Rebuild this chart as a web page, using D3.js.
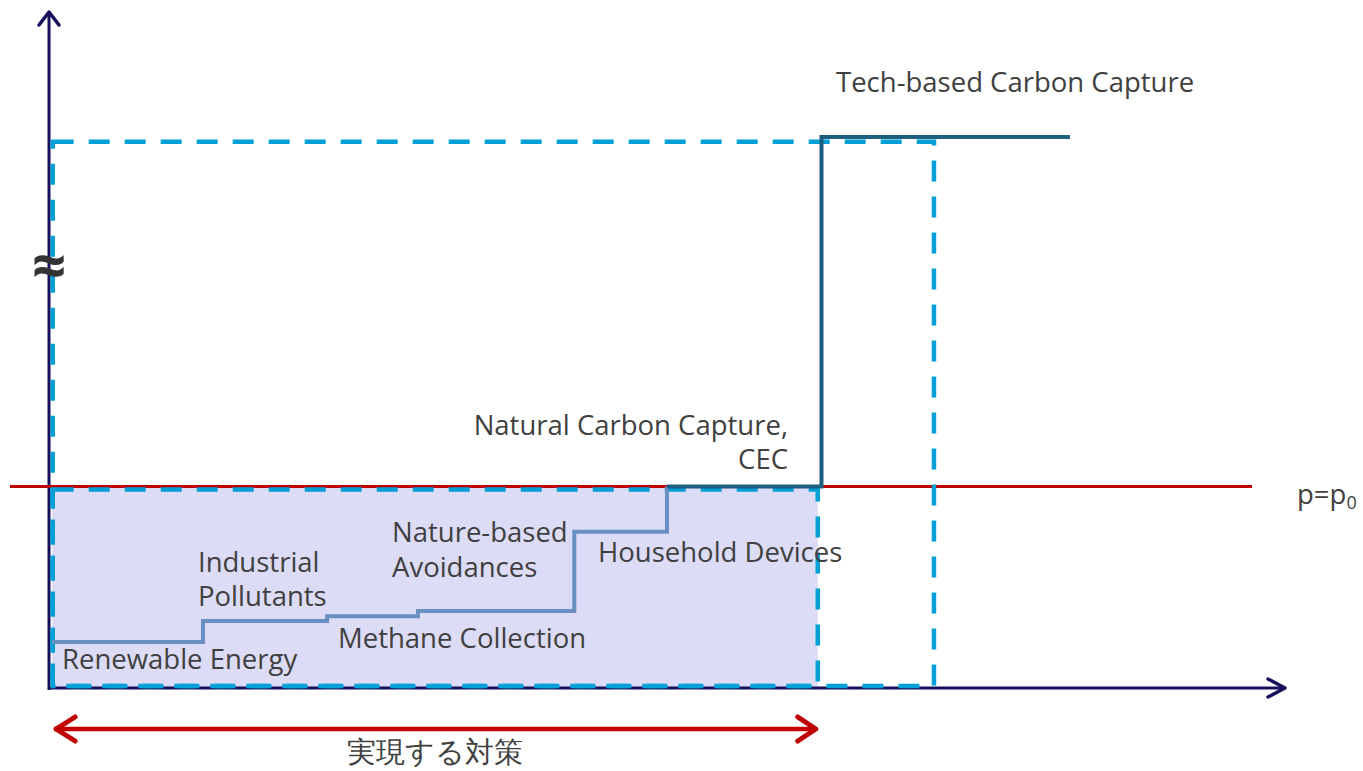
<!DOCTYPE html>
<html><head><meta charset="utf-8">
<script src="https://cdn.jsdelivr.net/npm/d3@7"></script>
<style>body{margin:0;background:#fff}svg{display:block}text{font-family:"Open Sans","Noto Sans",sans-serif;fill:#404040}</style>
</head><body><svg id="c" width="1363" height="771"></svg>
<script>
// ---- data ----
const categories = ["Renewable Energy","Industrial Pollutants","Methane Collection","Nature-based Avoidances","Household Devices","Natural Carbon Capture, CEC","Tech-based Carbon Capture"];
const stepStart = [0.25, 12.46, 22.5, 29.85, 42.5, 50, 62.5];
const stepEnd   = [12.46, 22.5, 29.85, 42.5, 50, 62.5, 82.6];
const stepCost  = [6.8, 9.9, 10.6, 11.4, 23.1, 29.8, 81.5];
const priceP0 = 29.8;
const realizedQty = 62.2;   // 実現する対策
const totalQty = 71.6;
const highCost = 80.8;

const svg = d3.select("#c");
const x = d3.scaleLinear().domain([0,100]).range([49,1285]);
const y = d3.scaleLinear().domain([0,100]).range([688,12]);

// shaded realized area
svg.append("rect").attr("x",x(0.25)).attr("y",y(priceP0)).attr("width",x(realizedQty)-x(0.25)).attr("height",y(0)-y(priceP0)).attr("fill","#dcdcf7");

// axes
const axisCol = "#160f5c";
svg.append("line").attr("x1",x(0)).attr("x2",x(0)).attr("y1",y(0)+2).attr("y2",y(100)).attr("stroke",axisCol).attr("stroke-width",3);
svg.append("line").attr("x1",x(0)).attr("x2",x(100)).attr("y1",y(0)).attr("y2",y(0)).attr("stroke",axisCol).attr("stroke-width",3);
svg.append("path").attr("d",`M${x(0)-10},${y(100)+13}L${x(0)},${y(100)}L${x(0)+10},${y(100)+13}`).attr("fill","none").attr("stroke",axisCol).attr("stroke-width",3.5).attr("stroke-linecap","round").attr("stroke-linejoin","round");
svg.append("path").attr("d",`M${x(100)-17},${y(0)-9}L${x(100)},${y(0)}L${x(100)-17},${y(0)+9}`).attr("fill","none").attr("stroke",axisCol).attr("stroke-width",3.5).attr("stroke-linecap","round").attr("stroke-linejoin","round");

// p0 line
svg.append("line").attr("x1",10).attr("x2",1252).attr("y1",y(priceP0)).attr("y2",y(priceP0)).attr("stroke","#c00000").attr("stroke-width",3);

// dashed rects
const dashCol = "#009fd6";
svg.append("rect").attr("x",x(0.3)).attr("y",y(highCost)).attr("width",x(totalQty)-x(0.3)).attr("height",y(0.3)-y(highCost))
  .attr("fill","none").attr("stroke",dashCol).attr("stroke-width",4.5).attr("stroke-dasharray","21,15");
svg.append("rect").attr("x",x(0.3)).attr("y",y(priceP0)+3).attr("width",x(realizedQty)-x(0.3)).attr("height",y(0.3)-y(priceP0)-3)
  .attr("fill","none").attr("stroke",dashCol).attr("stroke-width",4.5).attr("stroke-dasharray","21,15");

// step curve
function stepPts(idx){
  const pts=[];
  idx.forEach(i=>{ pts.push([x(stepStart[i]),y(stepCost[i])]); pts.push([x(stepEnd[i]),y(stepCost[i])]); });
  return pts;
}
const lowPts = stepPts([0,1,2,3,4]);
lowPts.push([x(stepStart[5]),y(stepCost[5])]);
svg.append("path").attr("d",d3.line()(lowPts)).attr("fill","none").attr("stroke","#6a8fc2").attr("stroke-width",4);
svg.append("path").attr("d",d3.line()(stepPts([5,6]))).attr("fill","none").attr("stroke","#1d5d80").attr("stroke-width",4);

// labels
const fs = 27.5;
function lab(t,px,py,anchor){ return svg.append("text").attr("x",px).attr("y",py).attr("font-size",fs).attr("text-anchor",anchor||"start").text(t); }
lab("Tech-based Carbon Capture",836,92);
lab("Natural Carbon Capture,",788,435,"end");
lab("CEC",788,469,"end");
lab("Nature-based",392,542);
lab("Avoidances",392,577);
lab("Household Devices",598,562);
lab("Industrial",198,572);
lab("Pollutants",198,606);
lab("Methane Collection",338,648);
lab("Renewable Energy",62,669);
const p0t = svg.append("text").attr("x",1297).attr("y",504).attr("font-size",fs);
p0t.append("tspan").text("p=p");
p0t.append("tspan").attr("font-size",18).attr("dy",5).text("0");

// ≈ break mark
svg.append("text").attr("x",x(0)).attr("y",287).attr("font-size",60).attr("text-anchor","middle").attr("font-family","DejaVu Sans").style("fill","#333").attr("font-weight","bold").text("≈");

// realized arrow
const ay = 729;
svg.append("line").attr("x1",x(0.25)+2).attr("x2",x(realizedQty)-4).attr("y1",ay).attr("y2",ay).attr("stroke","#c00000").attr("stroke-width",4.5);
svg.append("path").attr("d",`M${x(0.25)+23},${ay-12}L${x(0.25)+4},${ay}L${x(0.25)+23},${ay+12}`).attr("fill","none").attr("stroke","#c00000").attr("stroke-width",5).attr("stroke-linecap","round").attr("stroke-linejoin","round");
svg.append("path").attr("d",`M${x(realizedQty)-20},${ay-12}L${x(realizedQty)-2},${ay}L${x(realizedQty)-20},${ay+12}`).attr("fill","none").attr("stroke","#c00000").attr("stroke-width",5).attr("stroke-linecap","round").attr("stroke-linejoin","round");
svg.append("text").attr("x",(x(0.25)+x(realizedQty))/2).attr("y",762).attr("font-size",28.5).attr("text-anchor","middle").attr("font-family","Noto Sans CJK JP").text("実現する対策");
</script></body></html>
